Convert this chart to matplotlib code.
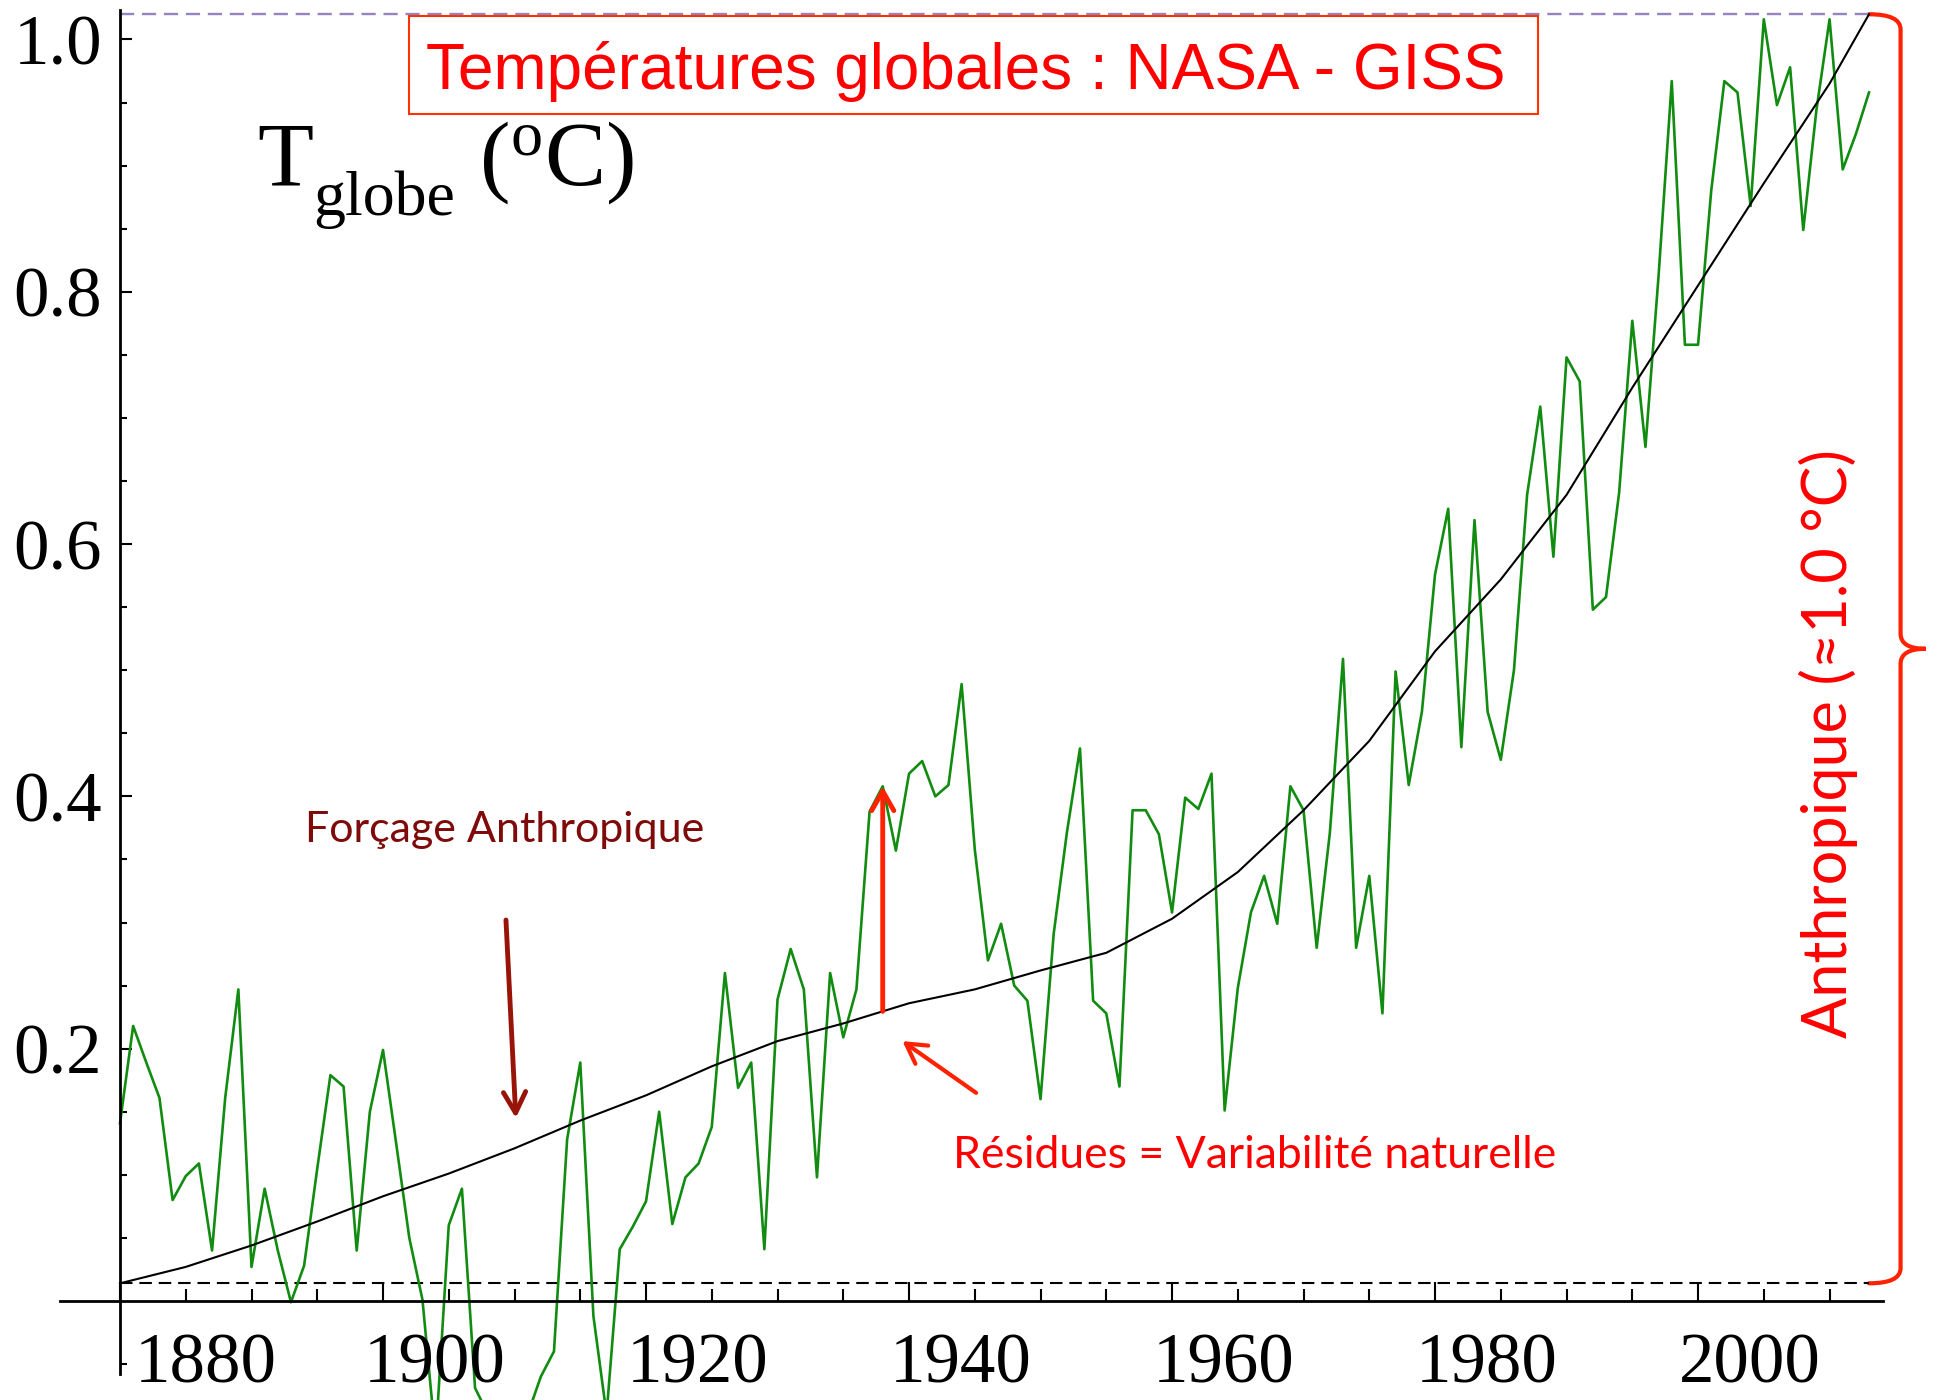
import numpy as np
import matplotlib
matplotlib.use("Agg")
import matplotlib.pyplot as plt
from matplotlib.patches import Rectangle, PathPatch
from matplotlib.path import Path

# annual global temperature, NASA GISS (green), 1880-2013
years = np.arange(1880, 2014)
t_giss = [
    0.141, 0.218, 0.189, 0.161, 0.080, 0.099, 0.109, 0.040, 0.161, 0.247,  # 1880s
    0.027, 0.089, 0.040, -0.001, 0.028, 0.105, 0.179, 0.170, 0.040, 0.150,  # 1890s
    0.199, 0.125, 0.050, 0.001, -0.110, 0.060, 0.089, -0.069, -0.090, -0.120,  # 1900s
    -0.100, -0.090, -0.060, -0.040, 0.128, 0.189, -0.012, -0.090, 0.041, 0.059,  # 1910s
    0.079, 0.150, 0.061, 0.098, 0.109, 0.138, 0.260, 0.169, 0.189, 0.041,  # 1920s
    0.239, 0.279, 0.247, 0.098, 0.260, 0.209, 0.247, 0.388, 0.408, 0.357,  # 1930s
    0.418, 0.428, 0.400, 0.409, 0.489, 0.358, 0.270, 0.299, 0.250, 0.238,  # 1940s
    0.160, 0.291, 0.371, 0.438, 0.238, 0.228, 0.170, 0.389, 0.389, 0.370,  # 1950s
    0.308, 0.399, 0.390, 0.418, 0.151, 0.248, 0.308, 0.337, 0.299, 0.408,  # 1960s
    0.389, 0.280, 0.371, 0.509, 0.280, 0.337, 0.228, 0.499, 0.409, 0.467,  # 1970s
    0.576, 0.628, 0.439, 0.619, 0.467, 0.429, 0.500, 0.639, 0.709, 0.590,  # 1980s
    0.748, 0.729, 0.548, 0.558, 0.641, 0.777, 0.677, 0.813, 0.967, 0.758,  # 1990s
    0.758, 0.880, 0.967, 0.958, 0.868, 1.016, 0.948, 0.978, 0.849, 0.944,  # 2000s
    1.016, 0.897, 0.925, 0.958,  # 2010s
]

# anthropogenic forcing response (black curve)
anthro_years = [1880, 1885, 1890, 1895, 1900, 1905, 1910, 1915, 1920, 1925,
                1930, 1935, 1940, 1945, 1950, 1955, 1960, 1965, 1970, 1975,
                1980, 1985, 1990, 1995, 2000, 2005, 2010, 2013]
anthro = [0.014, 0.027, 0.044, 0.063, 0.083, 0.101, 0.121, 0.143, 0.163, 0.186,
          0.206, 0.220, 0.236, 0.247, 0.262, 0.276, 0.303, 0.340, 0.389, 0.444,
          0.515, 0.572, 0.639, 0.724, 0.805, 0.886, 0.965, 1.020]

xtick_years = [1880, 1900, 1920, 1940, 1960, 1980, 2000]
ytick_vals = [0.2, 0.4, 0.6, 0.8, 1.0]

plt.rcParams["font.family"] = ["Liberation Serif", "DejaVu Serif"]
plt.rcParams["mathtext.fontset"] = "custom"
plt.rcParams["mathtext.rm"] = "Liberation Serif"
plt.rcParams["mathtext.it"] = "Liberation Serif:italic"

fig = plt.figure(figsize=(19.37, 14.0), dpi=100)
ax = fig.add_axes([0, 0, 1, 1])
ax.set_xlim(1870.875, 2018.17)
ax.set_ylim(-0.0785, 1.0313)
ax.patch.set_alpha(0)

# axes crossing at (1880, 0)
for s in ["top", "right"]:
    ax.spines[s].set_visible(False)
ax.spines["left"].set_position(("data", 1880))
ax.spines["bottom"].set_position(("data", 0))
ax.spines["left"].set_bounds(-0.058, 1.0234)
ax.spines["bottom"].set_bounds(1875.4, 2014.1)
for s in ["left", "bottom"]:
    ax.spines[s].set_linewidth(2.0)

ax.set_xticks(xtick_years, labels=[""] * len(xtick_years))
ax.set_xticks([y for y in range(1885, 2011, 5) if y % 20 != 0], minor=True)
ax.set_yticks(ytick_vals, labels=[f"{v:.1f}" for v in ytick_vals])
ax.set_yticks([v / 100 for v in range(-5, 100, 5) if v % 20 != 0], minor=True)
ax.tick_params(axis="x", which="major", direction="in", length=14, width=1.5)
ax.tick_params(axis="x", which="minor", direction="in", length=9, width=1.5)
ax.tick_params(axis="y", which="major", direction="in", length=8.5, width=1.5,
               pad=13, labelsize=51)
ax.tick_params(axis="y", which="minor", direction="in", length=5, width=1.5)

# year labels sit a little to the right of their ticks
for i, yr in enumerate(xtick_years):
    dx = 62 if i == 0 else 37
    ax.annotate(str(yr), xy=(yr, 0), xycoords="data", xytext=(dx, -23),
                textcoords="offset points", ha="center", va="top", fontsize=51,
                annotation_clip=False)

# reference levels at start and end of the anthropogenic curve
ax.plot([years[0], years[-1]], [anthro[0], anthro[0]], color="black", lw=1.5,
        dashes=(6, 3.3))
ax.plot([years[0], years[-1]], [anthro[-1], anthro[-1]], color="#9683C0", lw=1.7,
        dashes=(6, 3.3))

ax.plot(years, t_giss, color="#118C11", lw=1.9)
ax.plot(anthro_years, anthro, color="black", lw=1.5)

# brace on the right
y0, y1 = anthro[0], anthro[-1]
ym = (y0 + y1) / 2
xs, xb, xt = years[-1], 2015.4, 2017.3
r = 0.012
verts = [(xs, y0), (xb, y0), (xb, y0 + r),
         (xb, ym - r), (xb, ym), (xt, ym),
         (xb, ym), (xb, ym + r),
         (xb, y1 - r), (xb, y1), (xs, y1)]
codes = [Path.MOVETO, Path.CURVE3, Path.CURVE3,
         Path.LINETO, Path.CURVE3, Path.CURVE3,
         Path.CURVE3, Path.CURVE3,
         Path.LINETO, Path.CURVE3, Path.CURVE3]
ax.add_patch(PathPatch(Path(verts, codes), facecolor="none", edgecolor="#FF2200",
                       lw=3, clip_on=False, capstyle="round"))

# arrows
ax.annotate("", xy=(1910.1, 0.145), xytext=(1909.35, 0.302),
            arrowprops=dict(arrowstyle="->,head_length=0.75,head_width=0.4",
                            color="#991408", lw=3.5, mutation_scale=20,
                            shrinkA=0, shrinkB=0))
x_res = 1938
ax.annotate("", xy=(x_res, t_giss[x_res - years[0]]),
            xytext=(x_res, np.interp(x_res, anthro_years, anthro)),
            arrowprops=dict(arrowstyle="->,head_length=0.7,head_width=0.4",
                            color="#FF2200", lw=3.5, mutation_scale=20,
                            shrinkA=0, shrinkB=0))
ax.annotate("", xy=(1939.5, 0.206), xytext=(1945.1, 0.165),
            arrowprops=dict(arrowstyle="->,head_length=0.7,head_width=0.4",
                            color="#FF2200", lw=3, mutation_scale=20,
                            shrinkA=0, shrinkB=0))

# y label: T_globe (oC), subscript set lower than mathtext would put it
fig.text(257 / 1937, 1 - 185 / 1400, "T", fontsize=66, ha="left", va="baseline")
fig.text(313 / 1937, 1 - 215 / 1400, "globe", fontsize=46, ha="left", va="baseline")
fig.text(479 / 1937, 1 - 185 / 1400, r"$\mathrm{(^{o}C)}$", fontsize=66,
         ha="left", va="baseline")

fig.add_artist(Rectangle((0.2112, 0.9186), 0.5829, 0.07, transform=fig.transFigure,
                         facecolor="white", edgecolor="#FF3300", lw=1.5))
fig.text(0.4987, 0.9364, "Températures globales : NASA - GISS", fontsize=46,
         color="#FF0000", family=["Liberation Sans", "DejaVu Sans"],
         ha="center", va="baseline")
fig.text(0.2607, 0.4071, "Forçage Anthropique", fontsize=31, color="#7F0A0A",
         family=["Lato", "DejaVu Sans"], ha="center", va="center")
fig.text(0.6479, 0.1743, "Résidues = Variabilité naturelle", fontsize=32,
         color="#FF0000", family=["Lato", "DejaVu Sans"], ha="center", va="center")
fig.text(0.9437, 0.4686, "Anthropique (≈1.0 °C)", fontsize=44, color="#FF0000",
         family=["Lato", "DejaVu Sans"], rotation=90, ha="center", va="center")

fig.savefig("out.png", dpi=100)
